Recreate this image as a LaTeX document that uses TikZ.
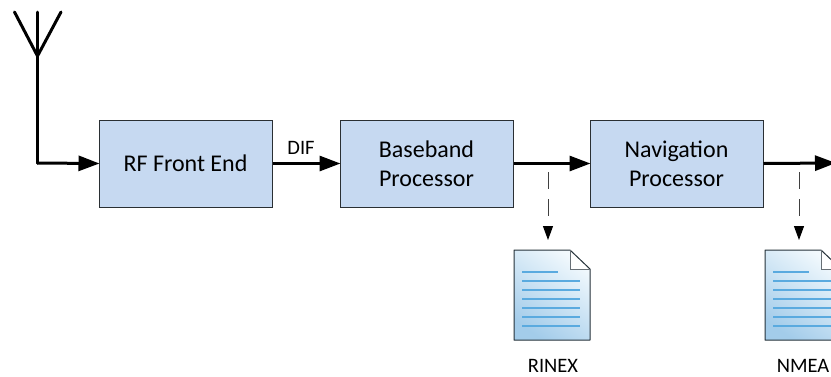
\documentclass[tikz,border=0pt]{standalone}
\usepackage{fontspec}
\setmainfont{Carlito}
\usetikzlibrary{arrows.meta,calc}
\definecolor{boxfill}{HTML}{C6D9F1}
\definecolor{boxline}{HTML}{2A2F33}
\definecolor{doclight}{HTML}{F2F9FD}
\definecolor{docmid}{HTML}{C6E0F3}
\definecolor{docdark}{HTML}{A3CCEA}
\definecolor{docrule}{HTML}{5AAADF}
\definecolor{docedge}{HTML}{26323A}
\definecolor{dashcol}{HTML}{404040}
\tikzset{
  procbox/.style={draw=boxline,line width=1pt,fill=boxfill,minimum width=173pt,minimum height=87pt,inner sep=0pt,align=center,font=\fontsize{24}{29}\selectfont},
  sig/.style={line width=3pt,-{Triangle[length=21pt,width=15pt]},shorten >=-1pt},
  ant/.style={line width=3pt,line cap=round,line join=round},
  tap/.style={draw=dashcol,line width=1pt,dash pattern=on 17pt off 10pt,-{Triangle[length=14pt,width=10pt,fill=black,color=black]}},
  lab/.style={inner sep=0pt,font=\fontsize{20.5}{24}\selectfont},
  docrulestyle/.style={draw=docrule,line width=1.2pt},
  pics/sheet/.style={code={
    \shade[top color=doclight,middle color=docmid,bottom color=docdark,shading angle=-35]
      (-38,-45) -- (18,-45) -- (38,-26) -- (38,45) -- (-38,45) -- cycle;
    \fill[white] (18,-45) -- (38,-26) -- (18,-26) -- cycle;
    \draw[docedge,line width=1pt,line join=round] (-38,-45) -- (18,-45) -- (38,-26) -- (38,45) -- (-38,45) -- cycle;
    \draw[docedge!70,line width=.8pt] (18,-45) -- (18,-26) -- (38,-26);
    \draw[docrulestyle] (-30,-23) -- (6,-23);
    \foreach \ry in {-14,-5,4,13,22,31}{\draw[docrulestyle] (-30,\ry) -- (28,\ry);}
  }}
}
\begin{document}
\begin{tikzpicture}[x=1pt,y=-1pt]
\useasboundingbox[clip] (0,0) rectangle (831,376);
\node[procbox] (rf) at (185.5,163.5) {RF Front End};
\node[procbox] (bb) at (426.5,163.5) {Baseband\\Processor};
\node[procbox] (nav) at (676.5,163.5) {Navigation\\Processor};
\coordinate (tip) at (37.5,56);
\coordinate (mid) at (37.5,12);
\coordinate (leftb) at (14.5,12);
\coordinate (rightb) at (61,12);
\coordinate (corner) at (37.5,163);
\draw[ant] (leftb) -- (tip) -- (rightb);
\draw[ant] (mid) -- (tip) -- (corner);
\draw[sig,line cap=round] (corner) -- (rf.west);
\draw[sig] (rf.east) -- (bb.west);
\draw[sig] (bb.east) -- (nav.west);
\coordinate (out) at (835,163);
\draw[sig] (nav.east) -- (out);
\node[lab,anchor=base] (dif) at (301,154) {DIF};
\pic at (552,295) {sheet};
\pic at (803,295) {sheet};
\coordinate (rtop) at (548,172);
\coordinate (rend) at (548,240);
\coordinate (ntop) at (799,172);
\coordinate (nend) at (799,240);
\draw[tap] (rtop) -- (rend);
\draw[tap] (ntop) -- (nend);
\node[lab,anchor=base] (rinex) at (553,372) {RINEX};
\node[lab,anchor=base] (nmea) at (803,372) {NMEA};
\end{tikzpicture}
\end{document}
